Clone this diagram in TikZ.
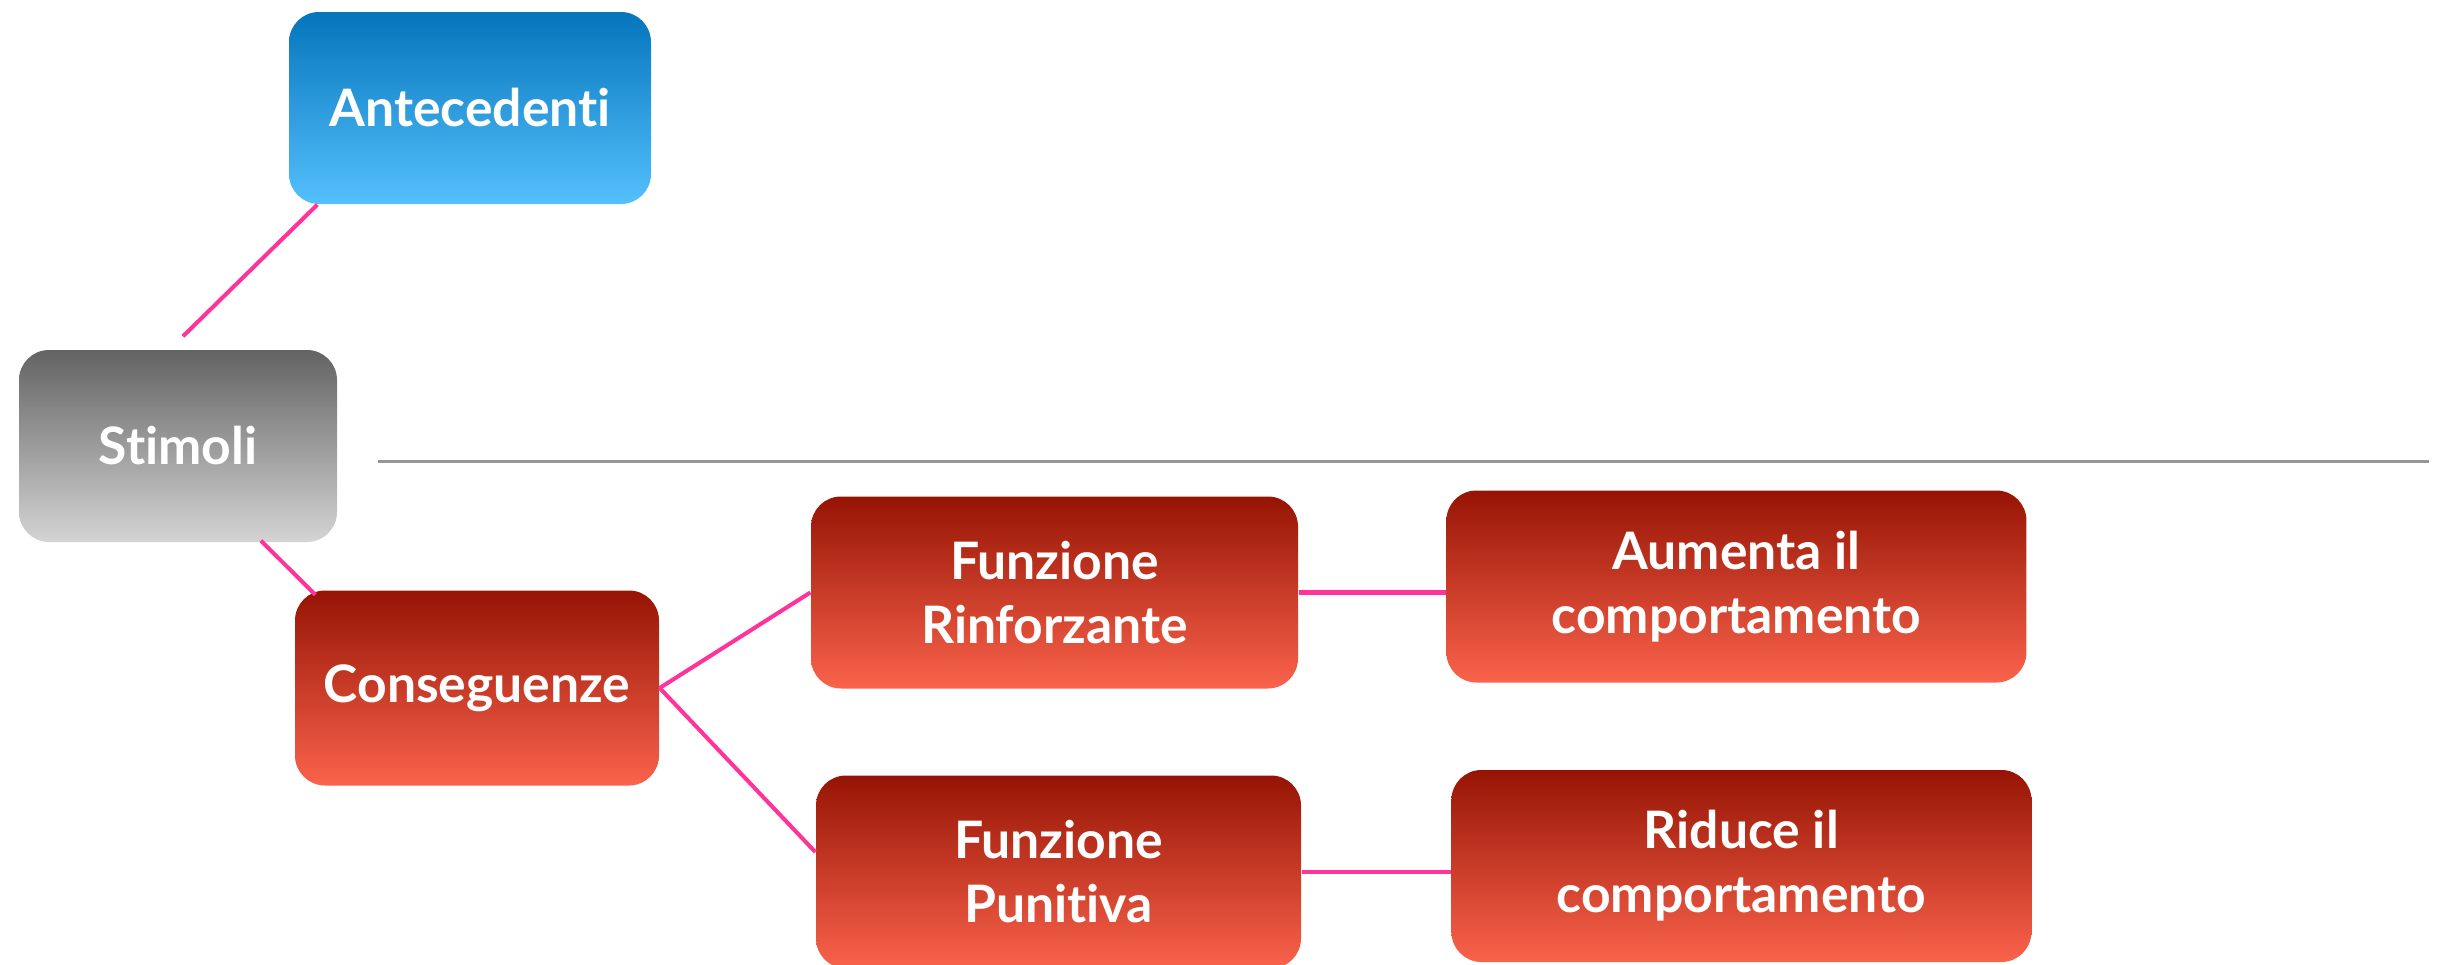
\documentclass[tikz,border=0pt]{standalone}
\usepackage{fontspec}
\setmainfont{Lato}[Ligatures=NoCommon]
\usetikzlibrary{positioning,calc}
\definecolor{bluetop}{RGB}{5,117,188}
\definecolor{bluebot}{RGB}{84,192,252}
\definecolor{greytop}{RGB}{99,99,99}
\definecolor{greybot}{RGB}{212,212,212}
\definecolor{redtop}{RGB}{150,20,4}
\definecolor{redbot}{RGB}{250,99,76}
\definecolor{pinkln}{RGB}{255,51,153}
\definecolor{sepgrey}{RGB}{150,150,150}
\tikzset{
  card/.style={rounded corners=3mm,align=center,text=white,font=\bfseries\fontsize{14.7}{18.2}\selectfont,minimum height=19.2mm,inner sep=2pt},
  blu/.style={card,top color=bluetop,bottom color=bluebot},
  gry/.style={card,top color=greytop,bottom color=greybot},
  red/.style={card,top color=redtop,bottom color=redbot},
  link/.style={draw=pinkln,line width=1.15pt},
  sep/.style={draw=sepgrey,line width=0.85pt}
}

\begin{document}
\begin{tikzpicture}
\useasboundingbox (0,0) rectangle (24.37,-9.64);
\node[blu,minimum width=36.2mm] (ant) at (4.70,-1.08) {Antecedenti};
\node[gry,minimum width=31.8mm] (stim) at (1.78,-4.46) {Stimoli};
\node[red,minimum width=36.4mm,minimum height=19.5mm] (cons) at (4.77,-6.88) {Conseguenze};
\node[red,minimum width=48.7mm] (rinf) at (10.545,-5.925) {Funzione\\Rinforzante};
\node[red,minimum width=58mm,right=14.7mm of rinf,yshift=0.6mm] (aum) {Aumenta il\\comportamento};
\node[red,minimum width=48.5mm,minimum height=19.3mm] (pun) at (10.585,-8.72) {Funzione\\Punitiva};
\node[red,minimum width=58mm,right=14.9mm of pun,yshift=0.6mm] (rid) {Riduce il\\comportamento};
\coordinate (sepL) at (3.78,-4.61);
\coordinate (sepR) at (24.29,-4.61);
\draw[sep] (sepL) -- (sepR);
\draw[link] ($(stim.north)+(0.05,0.13)$) -- ($(ant.south west)+(0.29,0)$);
\draw[link] ($(stim.south)+(0.83,0.02)$) -- ($(cons.north west)+(0.21,-0.05)$);
\draw[link] (cons.east) -- (rinf.west);
\draw[link] (cons.east) -- ($(pun.west)+(0,0.2)$);
\foreach \x/\y in {rinf/aum,pun/rid} \draw[link] (\x.east) -- (\x.east -| \y.west);
\end{tikzpicture}
\end{document}
